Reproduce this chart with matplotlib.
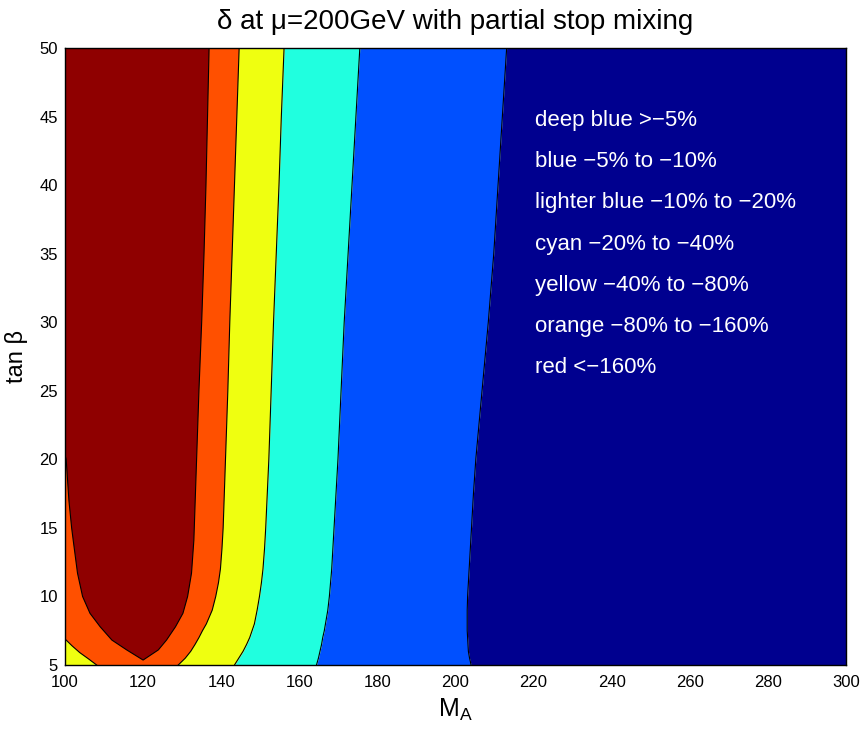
import matplotlib
matplotlib.use("Agg")
import matplotlib.pyplot as plt
import numpy as np

plt.rcParams["font.family"] = ["Liberation Sans", "DejaVu Sans"]
plt.rcParams["mathtext.fontset"] = "custom"
plt.rcParams["mathtext.rm"] = "Liberation Sans"
plt.rcParams["mathtext.it"] = "Liberation Sans"

# tan(beta) rows where the contour edges are sampled
tanb = [5, 5.5, 6, 6.5, 7, 7.5, 8, 9, 10, 11, 12, 13.5, 15, 17.5, 20, 25, 30, 35, 40, 45, 50]

# M_A of each contour edge along those rows (left colour | right colour)
edge_blue_deepblue = [204.0, 203.6, 203.3, 203.2, 203.1, 203.0, 203.0, 203.0, 203.1, 203.3, 203.5,
                      203.8, 204.1, 204.6, 205.2, 206.8, 208.4, 209.8, 210.9, 212.0, 213.1]
edge_cyan_blue = [164.4, 164.9, 165.3, 165.7, 166.0, 166.4, 166.7, 167.3, 167.7, 168.0, 168.3,
                  168.6, 168.9, 169.4, 169.9, 170.7, 171.5, 172.5, 173.5, 174.5, 175.5]
edge_yellow_cyan = [143.4, 144.5, 145.6, 146.5, 147.3, 147.9, 148.5, 149.2, 149.8, 150.3, 150.7,
                    151.1, 151.4, 151.8, 152.2, 152.8, 153.4, 154.1, 154.8, 155.4, 156.1]
edge_orange_yellow = [129.0, 130.8, 132.2, 133.3, 134.3, 135.2, 136.2, 137.7, 138.6, 139.3, 139.8,
                      140.2, 140.5, 140.8, 141.1, 141.7, 142.2, 142.8, 143.4, 144.0, 144.6]

# yellow corner under the orange band at small M_A
corner_ma = [100.0, 101.8, 103.8, 106.0, 108.1]
corner_tanb = [6.9, 6.4, 5.9, 5.45, 5.0]

# edge of the red pocket: left branch, tip at M_A=120, right branch
red_ma = [100.0, 100.3, 101.0, 101.7, 102.1, 103.2, 104.5, 106.4, 109.0, 112.0, 115.8, 120.0,
          123.9, 126.0, 128.3, 130.2, 131.4, 132.4, 133.0, 133.7, 134.3, 135.0, 135.6, 136.1,
          136.5, 136.9]
red_tanb = [20.3, 20.0, 17.0, 15.0, 14.1, 11.7, 10.0, 8.77, 7.79, 6.82, 6.1, 5.36,
            6.1, 6.82, 7.79, 8.77, 10.0, 11.7, 14.1, 20.0, 25.0, 30.0, 35.0, 40.0,
            45.0, 50.0]

legend_lines = [
    "deep blue >\u22125%",
    "blue \u22125% to \u221210%",
    "lighter blue \u221210% to \u221220%",
    "cyan \u221220% to \u221240%",
    "yellow \u221240% to \u221280%",
    "orange \u221280% to \u2212160%",
    "red <\u2212160%",
]

xticks = [100, 120, 140, 160, 180, 200, 220, 240, 260, 280, 300]
yticks = [5, 10, 15, 20, 25, 30, 35, 40, 45, 50]

c_deepblue = "#00008F"
c_blue = "#0050FF"
c_cyan = "#20FFDF"
c_yellow = "#EFFF10"
c_orange = "#FF5000"
c_red = "#8F0000"

xmin, xmax = 100, 300
ymin, ymax = 5, 50

fig = plt.figure(figsize=(8.64, 7.29), dpi=100)
ax = fig.add_axes([65 / 864, 64 / 729, 781 / 864, 617 / 729])

# filled bands, from right to left
ax.fill_betweenx(tanb, edge_blue_deepblue, xmax, color=c_deepblue, lw=0)
ax.fill_betweenx(tanb, edge_cyan_blue, edge_blue_deepblue, color=c_blue, lw=0)
ax.fill_betweenx(tanb, edge_yellow_cyan, edge_cyan_blue, color=c_cyan, lw=0)
ax.fill_betweenx(tanb, xmin, edge_yellow_cyan, color=c_yellow, lw=0)

orange_x = np.concatenate([[xmin], corner_ma, edge_orange_yellow])
orange_y = np.concatenate([[ymax], corner_tanb, tanb])
ax.fill(orange_x, orange_y, color=c_orange, lw=0)

ax.fill(np.concatenate([red_ma, [xmin]]), np.concatenate([red_tanb, [ymax]]),
        color=c_red, lw=0)

# contour lines
for edge in (edge_blue_deepblue, edge_cyan_blue, edge_yellow_cyan, edge_orange_yellow):
    ax.plot(edge, tanb, color="k", lw=0.8)
ax.plot(corner_ma, corner_tanb, color="k", lw=0.8)
ax.plot(red_ma, red_tanb, color="k", lw=0.8)

for i, line in enumerate(legend_lines):
    ax.text(220.4, 44.3 - 3.0 * i, line, color="white", fontsize=16,
            ha="left", va="baseline")

ax.set_xlim(xmin, xmax)
ax.set_ylim(ymin, ymax)
ax.set_xticks(xticks)
ax.set_yticks(yticks)
ax.tick_params(length=0, labelsize=12)
ax.tick_params(axis="x", pad=7)
ax.tick_params(axis="y", pad=5)
for spine in ax.spines.values():
    spine.set_linewidth(1.0)

ax.set_title("\u03b4 at \u03bc=200GeV with partial stop mixing", fontsize=20, pad=14)
ax.set_xlabel(r"M$_\mathrm{A}$", fontsize=18, labelpad=5)
ax.set_ylabel("tan \u03b2", fontsize=17, labelpad=8)

fig.savefig("out.png", dpi=100)
